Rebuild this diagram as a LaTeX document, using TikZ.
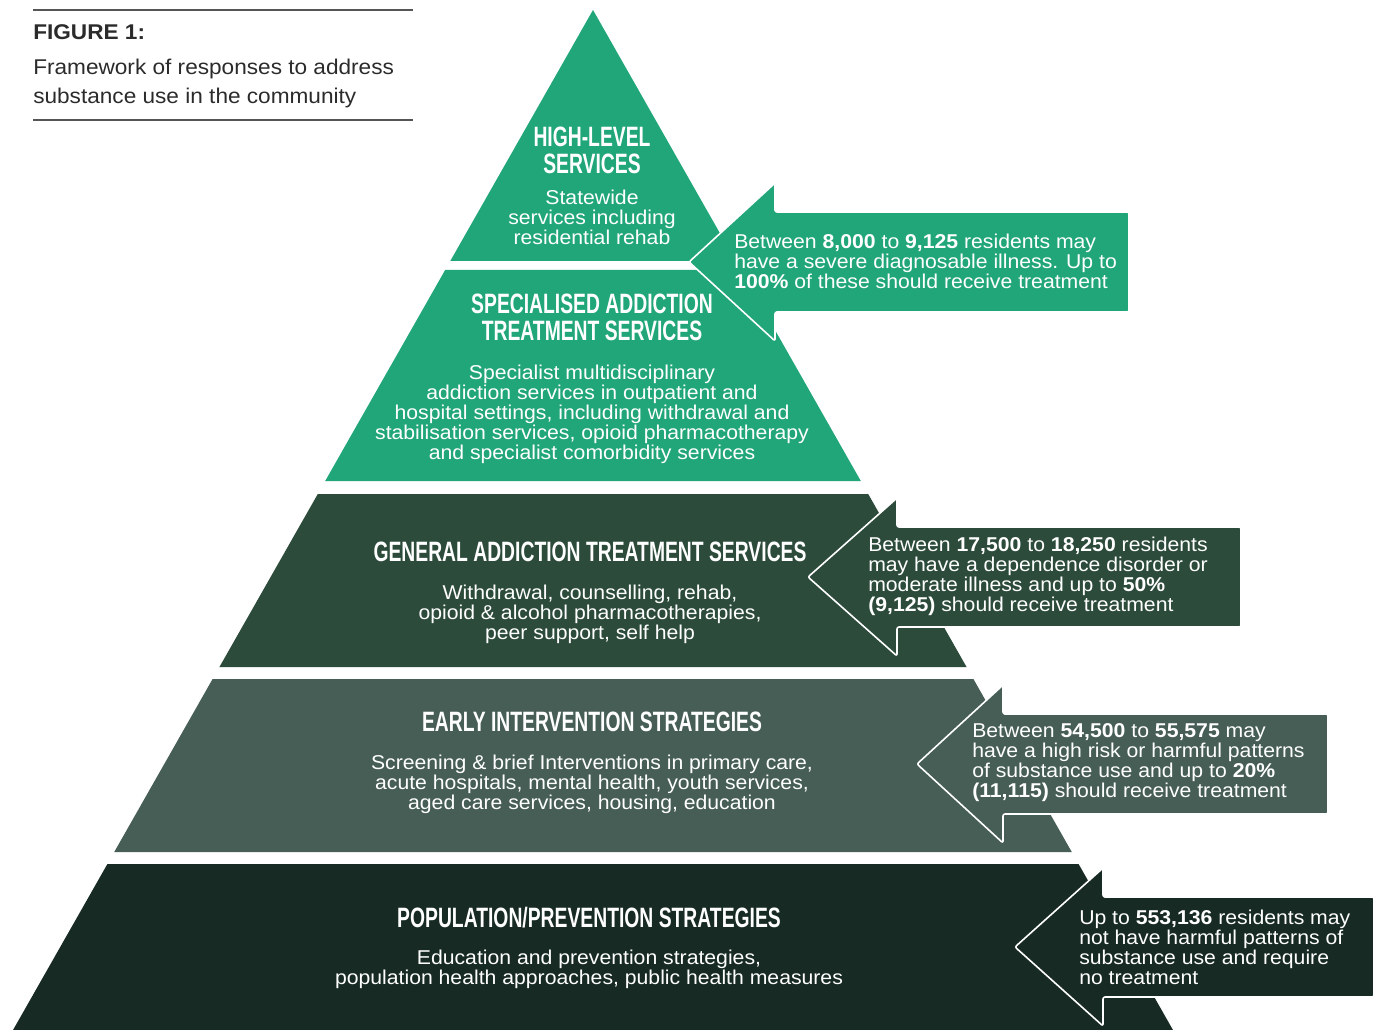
\documentclass[tikz,border=0pt]{standalone}
\usepackage{fontspec}
\setmainfont{Liberation Sans}[FakeStretch=1.06]
\newfontfamily\headfont[FakeStretch=0.69]{Liberation Sans}

\definecolor{tierA}{HTML}{21A67A}
\definecolor{tierB}{HTML}{2C4B3B}
\definecolor{tierC}{HTML}{465E55}
\definecolor{tierD}{HTML}{172A24}
\definecolor{inkgray}{HTML}{2B2B2B}

\tikzset{
  heading/.style={text=white, align=center, inner sep=0pt,
    font=\headfont\bfseries\fontsize{21}{20.25}\selectfont},
  blurb/.style={text=white, align=center, inner sep=0pt,
    font=\fontsize{15}{15}\selectfont},
  note/.style={text=white, align=left, anchor=west, inner sep=0pt,
    font=\fontsize{15}{15}\selectfont},
  callout/.style={draw=white, line width=1.2pt, rounded corners=1.5pt, line join=round},
}

\begin{document}
\begin{tikzpicture}[x=0.75pt, y=-0.75pt]
  \useasboundingbox (0,0) rectangle (1378,1030);

  % Caption
  \draw[inkgray!80, line width=0.8pt] (33,10) -- (413,10);
  \draw[inkgray!80, line width=0.8pt] (33,120) -- (413,120);
  \node[anchor=west, inner sep=0pt, text=inkgray, font=\bfseries\fontsize{16}{20}\selectfont] (fig) at (33,32) {FIGURE 1:};
  \node[anchor=west, inner sep=0pt, align=left, text=inkgray, font=\fontsize{16}{21.75}\selectfont] (caption) at (33,83)
    {Framework of responses to address\\substance use in the community};

  % Top of the pyramid
  \fill[tierA] (593,10) -- ({593+0.5686*251},261) -- ({593-0.5686*251},261) -- cycle;
  % Lower tiers
  \foreach \top/\bot/\col in {270/481/tierA, 494/667/tierB, 679/852/tierC, 864/1030/tierD} {
    \fill[\col] ({593-0.5686*(\top-10)},\top) -- ({593+0.5686*(\top-10)},\top)
      -- ({593+0.5686*(\bot-10)},\bot) -- ({593-0.5686*(\bot-10)},\bot) -- cycle;
  }

  % Arrows pointing at the tiers
  \foreach \tx/\ty/\hx/\rx/\col in {689/262/775/1129/tierA, 808/577/897/1241/tierB,
                                    917/764/1003/1328/tierC, 1015/947/1103/1374/tierD} {
    \filldraw[callout, fill=\col] (\tx,\ty) -- (\hx,\ty-79) -- (\hx,\ty-50) -- (\rx,\ty-50)
      -- (\rx,\ty+50) -- (\hx,\ty+50) -- (\hx,\ty+79) -- cycle;
  }

  % Tier texts
  \node[heading] (highhead) at (592,150.5) {HIGH-LEVEL\\SERVICES};
  \node[blurb] (highbody) at (592,217) {Statewide\\services including\\residential rehab};

  \node[heading] (spechead) at (592,317.5) {SPECIALISED ADDICTION\\TREATMENT SERVICES};
  \node[blurb] (specbody) at (592,414) {Specialist multidisciplinary\\addiction services in outpatient and\\hospital settings, including withdrawal and\\stabilisation services, opioid pharmacotherapy\\and specialist comorbidity services};

  \node[heading] (genhead) at (590,552) {GENERAL ADDICTION TREATMENT SERVICES};
  \node[blurb] (genbody) at (590,614) {Withdrawal, counselling, rehab,\\opioid \& alcohol pharmacotherapies,\\peer support, self help};

  \node[heading] (earlyhead) at (592,722) {EARLY INTERVENTION STRATEGIES};
  \node[blurb] (earlybody) at (592,784) {Screening \& brief Interventions in primary care,\\acute hospitals, mental health, youth services,\\aged care services, housing, education};

  \node[heading] (pophead) at (589,918) {POPULATION/PREVENTION STRATEGIES};
  \node[blurb] (popbody) at (589,969) {Education and prevention strategies,\\population health approaches, public health measures};

  % Arrow texts
  \node[note] (highnote) at (734,261) {Between \textbf{8,000} to \textbf{9,125} residents may\\have a severe diagnosable illness. Up to\\\textbf{100\%} of these should receive treatment};
  \node[note] (gennote) at (868,576) {Between \textbf{17,500} to \textbf{18,250} residents\\may have a dependence disorder or\\moderate illness and up to \textbf{50\%}\\\textbf{(9,125)} should receive treatment};
  \node[note] (earlynote) at (972,763) {Between \textbf{54,500} to \textbf{55,575} may\\have a high risk or harmful patterns\\of substance use and up to \textbf{20\%}\\\textbf{(11,115)} should receive treatment};
  \node[note] (popnote) at (1079,947) {Up to \textbf{553,136} residents may\\not have harmful patterns of\\substance use and require\\no treatment};
\end{tikzpicture}
\end{document}
